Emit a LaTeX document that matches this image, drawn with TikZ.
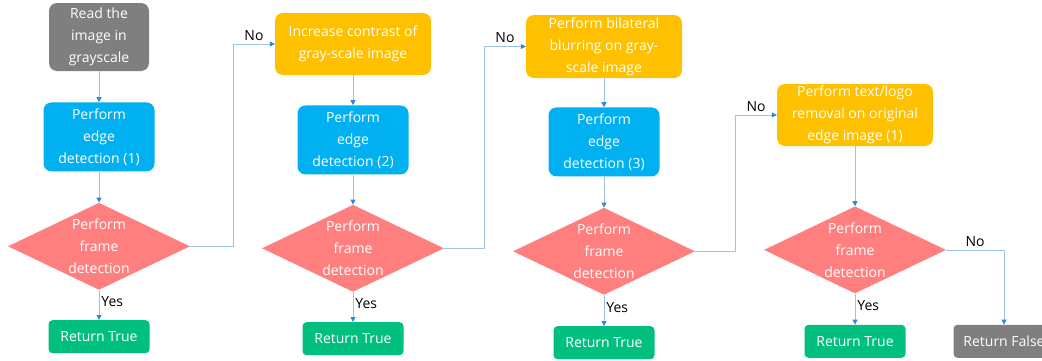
\documentclass[tikz,border=0pt]{standalone}
\usepackage{fontspec}
\setmainfont{Open Sans}
\usetikzlibrary{shapes.geometric,arrows.meta}

\definecolor{greybox}{HTML}{7F7F7F}
\definecolor{bluebox}{HTML}{00B0F0}
\definecolor{orangebox}{HTML}{FFC000}
\definecolor{pinkbox}{HTML}{FF7F7F}
\definecolor{greenbox}{HTML}{00BF7F}
\definecolor{linecol}{HTML}{9DC3E6}
\definecolor{tipcol}{HTML}{2E86DE}

\begin{document}
\begin{tikzpicture}[x=1pt,y=1pt,font=\fontsize{14}{22}\selectfont]

\tikzstyle{readnode}=[rectangle,inner sep=0mm,minimum height=68pt,minimum width=100pt,rounded corners=8pt,fill=greybox,text=white,align=center]
\tikzstyle{edgenode}=[rectangle,inner sep=0mm,minimum height=69pt,minimum width=111pt,rounded corners=8pt,fill=bluebox,text=white,align=center]
\tikzstyle{prepnode}=[rectangle,inner sep=0mm,minimum height=62pt,minimum width=156pt,rounded corners=8pt,fill=orangebox,text=white,align=center]
\tikzstyle{framenode}=[diamond,aspect=2.1,inner sep=0mm,minimum height=87pt,minimum width=182pt,fill=pinkbox,text=white,align=center]
\tikzstyle{truenode}=[rectangle,inner sep=0mm,minimum height=33pt,minimum width=101pt,rounded corners=4pt,fill=greenbox,text=white]
\tikzstyle{falsenode}=[rectangle,inner sep=0mm,minimum height=33pt,minimum width=101pt,rounded corners=4pt,fill=greybox,text=white]
\tikzstyle{flow}=[draw=linecol,line width=0.8pt,-{Triangle[length=5pt,width=5pt,color=tipcol]}]

\useasboundingbox (0,0) rectangle (1042,360);

\begin{scope}[]

% column 1
\node [readnode] (r1) at (99, 323){Read the\\image in\\grayscale};
\node [anchor=north,edgenode] (e1) at ([xshift=0pt,yshift=-31pt]r1.south){Perform\\edge\\detection (1)};
\node [anchor=north,framenode] (d1) at ([xshift=0pt,yshift=-31pt]e1.south){Perform\\frame\\detection};
\node [anchor=north,truenode] (t1) at ([xshift=0pt,yshift=-30pt]d1.south){Return True};

% column 2
\node [prepnode] (i2) at (353, 316){Increase contrast of\\gray-scale image};
\node [anchor=north,edgenode] (e2) at ([xshift=0pt,yshift=-30pt]i2.south){Perform\\edge\\detection (2)};
\node [anchor=north,framenode] (d2) at ([xshift=0pt,yshift=-30pt]e2.south){Perform\\frame\\detection};
\node [anchor=north,truenode] (t2) at ([xshift=0pt,yshift=-30pt]d2.south){Return True};

% column 3
\node [prepnode,minimum height=63pt] (b3) at (604, 313.5){Perform bilateral\\blurring on gray-\\scale image};
\node [anchor=north,edgenode] (e3) at ([xshift=0pt,yshift=-29pt]b3.south){Perform\\edge\\detection (3)};
\node [anchor=north,framenode] (d3) at ([xshift=0pt,yshift=-31pt]e3.south){Perform\\frame\\detection};
\node [anchor=north,truenode] (t3) at ([xshift=0pt,yshift=-31pt]d3.south){Return True};

% column 4
\node [prepnode] (p4) at (855, 245){Perform text/logo\\removal on original\\edge image (1)};
\node [anchor=north,framenode] (d4) at ([xshift=0pt,yshift=-60pt]p4.south){Perform\\frame\\detection};
\node [anchor=north,truenode] (t4) at ([xshift=0pt,yshift=-31pt]d4.south){Return True};
\node [anchor=north,falsenode] (f4) at ([xshift=149pt,yshift=0pt]t4.north){Return False};


\draw[flow] (r1.south)--(e1.north);
\draw[flow] (e1.south)--(d1.north);
\draw[flow] (d1.south)--node[right,text=black,pos=0.4,inner sep=2pt]{Yes}(t1.north);

\draw[flow] (i2.south)--(e2.north);
\draw[flow] (e2.south)--(d2.north);
\draw[flow] (d2.south)--node[right,text=black,pos=0.4,inner sep=2pt]{Yes}(t2.north);

\draw[flow] (b3.south)--(e3.north);
\draw[flow] (e3.south)--(d3.north);
\draw[flow] (d3.south)--node[right,text=black,pos=0.4,inner sep=2pt]{Yes}(t3.north);

\draw[flow] (p4.south)--(d4.north);
\draw[flow] (d4.south)--node[right,text=black,pos=0.4,inner sep=2pt]{Yes}(t4.north);


% the No branches
\draw[flow] (d1.east)--++(43,0)|-node[pos=0.75,above,text=black]{No}(i2.west);
\draw[flow] (d2.east)--++(40,0)|-node[pos=0.75,above,text=black]{No}(b3.west);
\draw[flow] (d3.east)--++(40,0)|-node[pos=0.75,above,text=black]{No}(p4.west);
\draw[flow] (d4.east)-|node[pos=0.25,above,text=black]{No}(f4.north);

\end{scope}
\end{tikzpicture}
\end{document}
